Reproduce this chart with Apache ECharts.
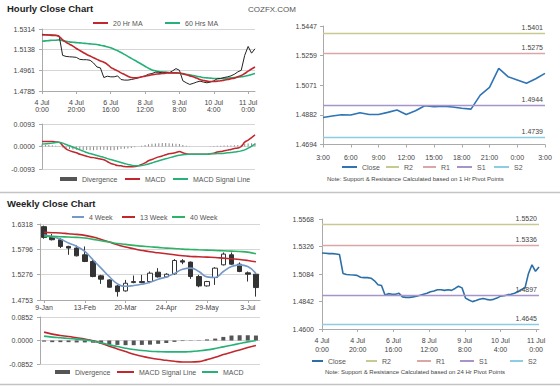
<!DOCTYPE html>
<html><head><meta charset="utf-8">
<script src="https://cdn.jsdelivr.net/npm/echarts@6/dist/echarts.min.js"></script>
<style>html,body{margin:0;padding:0;background:#fff}#c{width:560px;height:386px}</style>
</head><body><div id="c"></div>
<script>
// ---------- Hourly close chart (2-hour steps) ----------
const hourlyTickLabels = ['4 Jul\n0:00','4 Jul\n20:00','6 Jul\n16:00','8 Jul\n12:00','9 Jul\n8:00','10 Jul\n4:00','11 Jul\n0:00'];
const hourlyPriceTicks = ['1.4785','1.4961','1.5138','1.5314'];
const hourlyMacdTicks = ['-0.0093','0.0000','0.0093'];
const hourlyClose = [1.5269,1.5266,1.5263,1.5263,1.5260,1.5255,1.5089,1.5080,1.5077,1.5075,
 1.5072,1.5055,1.5052,1.5052,1.5047,1.5024,1.4990,1.4982,1.4900,1.4911,
 1.4906,1.4906,1.4914,1.4883,1.4878,1.4878,1.4883,1.4889,1.4897,1.4906,
 1.4914,1.4928,1.4934,1.4945,1.4945,1.4940,1.4945,1.4940,1.4957,1.4976,
 1.4962,1.4872,1.4855,1.4841,1.4850,1.4861,1.4869,1.4861,1.4855,1.4861,
 1.4872,1.4889,1.4892,1.4900,1.4906,1.4914,1.4928,1.4948,1.4962,1.5089,
 1.5165,1.5108,1.5145];
const ma20 = [1.5263,1.5263,1.5263,1.5260,1.5260,1.5249,1.5221,1.5201,1.5184,1.5168,
 1.5148,1.5131,1.5114,1.5097,1.5083,1.5069,1.5055,1.5041,1.5030,1.5013,
 1.4987,1.4971,1.4957,1.4940,1.4926,1.4911,1.4900,1.4897,1.4900,1.4906,
 1.4911,1.4917,1.4923,1.4928,1.4931,1.4934,1.4937,1.4940,1.4940,1.4940,
 1.4937,1.4931,1.4923,1.4914,1.4906,1.4895,1.4883,1.4875,1.4869,1.4866,
 1.4866,1.4869,1.4872,1.4878,1.4883,1.4889,1.4895,1.4906,1.4917,1.4934,
 1.4954,1.4973,1.4990];
const ma60 = [1.5210,1.5213,1.5215,1.5218,1.5218,1.5221,1.5215,1.5210,1.5204,1.5201,
 1.5198,1.5196,1.5193,1.5190,1.5187,1.5184,1.5182,1.5176,1.5170,1.5162,
 1.5154,1.5142,1.5128,1.5114,1.5097,1.5080,1.5063,1.5047,1.5030,1.5013,
 1.4996,1.4979,1.4965,1.4957,1.4951,1.4948,1.4945,1.4942,1.4940,1.4940,
 1.4937,1.4934,1.4928,1.4923,1.4917,1.4911,1.4906,1.4900,1.4897,1.4895,
 1.4892,1.4892,1.4892,1.4892,1.4895,1.4897,1.4900,1.4903,1.4906,1.4911,
 1.4917,1.4926,1.4934];
const hMacd = [0.0021,0.0021,0.0021,0.0021,0.0019,0.0017,0.0004,-0.0010,-0.0017,-0.0022,
 -0.0026,-0.0032,-0.0036,-0.0040,-0.0044,-0.0046,-0.0049,-0.0052,-0.0055,-0.0062,
 -0.0070,-0.0074,-0.0079,-0.0080,-0.0083,-0.0084,-0.0084,-0.0083,-0.0080,-0.0074,
 -0.0068,-0.0059,-0.0054,-0.0048,-0.0043,-0.0039,-0.0034,-0.0030,-0.0028,-0.0025,
 -0.0021,-0.0026,-0.0030,-0.0032,-0.0032,-0.0032,-0.0032,-0.0032,-0.0032,-0.0030,
 -0.0028,-0.0023,-0.0021,-0.0018,-0.0015,-0.0012,-0.0008,-0.0006,0.0000,0.0018,
 0.0026,0.0037,0.0048];
const hSignal = [0.0010,0.0011,0.0012,0.0014,0.0017,0.0018,0.0014,0.0008,0.0003,-0.0003,
 -0.0008,-0.0014,-0.0019,-0.0025,-0.0029,-0.0033,-0.0037,-0.0041,-0.0045,-0.0050,
 -0.0054,-0.0058,-0.0062,-0.0066,-0.0070,-0.0074,-0.0077,-0.0080,-0.0080,-0.0079,
 -0.0076,-0.0072,-0.0068,-0.0063,-0.0059,-0.0055,-0.0051,-0.0047,-0.0043,-0.0039,
 -0.0036,-0.0034,-0.0033,-0.0032,-0.0032,-0.0032,-0.0032,-0.0032,-0.0032,-0.0030,
 -0.0030,-0.0029,-0.0029,-0.0028,-0.0026,-0.0025,-0.0023,-0.0021,-0.0018,-0.0014,
 -0.0007,0.0001,0.0010];
const hDiv = [0.0008,0.0007,0.0006,0.0005,0.0003,0.0001,-0.0004,-0.0008,-0.0010,-0.0012,
 -0.0013,-0.0014,-0.0014,-0.0014,-0.0015,-0.0015,-0.0014,-0.0013,-0.0013,-0.0014,
 -0.0016,-0.0015,-0.0013,-0.0010,-0.0009,-0.0008,-0.0006,-0.0003,0.0000,0.0003,
 0.0006,0.0009,0.0011,0.0012,0.0013,0.0014,0.0014,0.0013,0.0012,0.0011,
 0.0010,0.0006,0.0003,0.0001,0.0000,0.0000,0.0000,0.0000,0.0000,0.0001,
 0.0002,0.0003,0.0003,0.0004,0.0004,0.0004,0.0005,0.0006,0.0007,0.0010,
 0.0012,0.0013,0.0014];

// ---------- 1 Hr pivot chart ----------
const pivotHours = ['3:00','4:00','5:00','6:00','7:00','8:00','9:00','10:00','11:00','12:00','13:00','14:00','15:00','16:00','17:00','18:00','19:00','20:00','21:00','22:00','23:00','0:00','1:00','2:00','3:00'];
const pivot1hTicks = ['1.4694','1.4882','1.5071','1.5259','1.5447'];
const pivot1hClose = [1.4866,1.4875,1.4883,1.4881,1.4896,1.4885,1.4885,1.4898,1.4913,1.4885,1.4908,1.4940,1.4934,1.4938,1.4932,1.4924,1.4919,1.5008,1.5057,1.5178,1.5125,1.5104,1.5083,1.5112,1.5146];
const pivotNames = ['R2','R1','S1','S2'];
const pivot1hLevels = [1.5401,1.5275,1.4944,1.4739];

// ---------- 24 Hr pivot chart ----------
const pivot24hTicks = ['1.4600','1.4842','1.5084','1.5326','1.5568'];
const pivot24hLevels = [1.5520,1.5336,1.4897,1.4645];

// ---------- Weekly close chart ----------
const weeks = ['9-Jan','16-Jan','23-Jan','30-Jan','6-Feb','13-Feb','20-Feb','27-Feb','6-Mar','13-Mar','20-Mar','27-Mar','3-Apr','10-Apr','17-Apr','24-Apr','1-May','8-May','15-May','22-May','29-May','5-Jun','12-Jun','19-Jun','26-Jun','3-Jul','10-Jul'];
const weeklyPriceTicks = ['1.4753','1.5276','1.5796','1.6318'];
const weeklyMacdTicks = ['-0.0852','0.0000','0.0852'];
// [open, close, low, high]
const weeklyOHLC = [
 [1.6263,1.6042,1.6015,1.6284],[1.6042,1.5994,1.5980,1.6111],[1.5994,1.5856,1.5822,1.6029],
 [1.5856,1.5822,1.5684,1.5870],[1.5822,1.5663,1.5650,1.5877],[1.5684,1.5546,1.5533,1.5856],
 [1.5546,1.5236,1.5222,1.5581],[1.5250,1.5181,1.5085,1.5271],[1.5167,1.5016,1.5009,1.5181],
 [1.5043,1.4926,1.4823,1.5064],[1.4940,1.5098,1.4926,1.5167],[1.5112,1.5133,1.5098,1.5257],
 [1.5133,1.5112,1.5098,1.5271],[1.5133,1.5305,1.5098,1.5340],[1.5326,1.5229,1.5216,1.5409],
 [1.5229,1.5284,1.5216,1.5305],[1.5291,1.5567,1.5271,1.5595],[1.5560,1.5533,1.5491,1.5595],
 [1.5533,1.5236,1.5188,1.5546],[1.5236,1.5043,1.5016,1.5271],[1.5043,1.5133,1.5030,1.5147],
 [1.5216,1.5409,1.5064,1.5429],[1.5477,1.5698,1.5464,1.5732],[1.5684,1.5491,1.5477,1.5732],
 [1.5491,1.5340,1.5326,1.5526],[1.5312,1.5284,1.5133,1.5340],[1.5284,1.5009,1.4823,1.5298]];
const week4 = [1.6098,1.6056,1.6008,1.5925,1.5856,1.5753,1.5581,1.5409,1.5236,1.5085,1.5036,1.5050,1.5078,1.5119,1.5181,1.5229,1.5298,1.5388,1.5409,1.5340,1.5229,1.5216,1.5340,1.5443,1.5477,1.5443,1.5298];
const week13 = [1.6146,1.6139,1.6132,1.6118,1.6104,1.6084,1.6049,1.6001,1.5946,1.5891,1.5843,1.5808,1.5774,1.5746,1.5725,1.5705,1.5684,1.5663,1.5650,1.5643,1.5636,1.5629,1.5615,1.5601,1.5588,1.5567,1.5539];
const week40 = [1.6063,1.6063,1.6056,1.6049,1.6042,1.6029,1.6001,1.5973,1.5946,1.5918,1.5898,1.5877,1.5863,1.5849,1.5836,1.5822,1.5815,1.5801,1.5794,1.5787,1.5781,1.5774,1.5767,1.5760,1.5753,1.5739,1.5705];
const wSignal = [0.0304,0.0231,0.0183,0.0146,0.0097,0.0049,-0.0012,-0.0097,-0.0207,-0.0304,-0.0402,-0.0499,-0.0572,-0.0633,-0.0682,-0.0718,-0.0754,-0.0779,-0.0779,-0.0767,-0.0694,-0.0609,-0.0511,-0.0426,-0.0341,-0.0256,-0.0183];
const wMacd = [0.0158,0.0122,0.0097,0.0073,0.0049,0.0024,-0.0024,-0.0085,-0.0158,-0.0219,-0.0280,-0.0329,-0.0365,-0.0389,-0.0402,-0.0414,-0.0414,-0.0414,-0.0402,-0.0377,-0.0341,-0.0292,-0.0231,-0.0170,-0.0110,-0.0049,0.0000];
const wDiv = [-0.004,-0.006,-0.006,-0.006,-0.007,-0.007,-0.008,-0.012,-0.015,-0.016,-0.017,-0.017,-0.016,-0.015,-0.012,-0.009,-0.005,-0.002,-0.001,0.001,0.004,0.007,0.013,0.018,0.019,0.019,0.018];

// ---------- build ----------
const FONT = 'Liberation Sans, Arial, sans-serif';
const RED = '#c1272d', GREEN = '#27b077', BLUE = '#2f74b5';
const pivotColors = ['#c6ca8f','#dba6a6','#a795c9','#8ccde4'];
const hourIdx = hourlyClose.map((_, i) => String(i));
const num = a => parseFloat(a);

const labelMap = {
  h20:'20 Hr MA', h60:'60 Hrs MA', hDiv:'Divergence', hMacd:'MACD', hSig:'MACD Signal Line',
  p1Close:'Close', p1R2:'R2', p1R1:'R1', p1S1:'S1', p1S2:'S2',
  p24Close:'Close', p24R2:'R2', p24R1:'R1', p24S1:'S1', p24S2:'S2',
  w4:'4 Week', w13:'13 Week', w40:'40 Week', wDiv:'Divergence', wSig:'MACD Signal Line', wMacd:'MACD'
};
function L(name, x, y, w, h, swatch) {
  h = h || 2;
  const item = swatch ? { name:name, itemStyle:{ color:swatch } } : name;
  return { left:x, top:y - 5, padding:0, itemGap:0, itemWidth:w, itemHeight:h, icon:'rect',
    selectedMode:false, data:[item], formatter: n => labelMap[n],
    textStyle:{ fontSize:7, color:'#555', fontFamily:FONT, lineHeight:10 } };
}
const legends = [
  L('h20',93,23,15), L('h60',165,23,15),
  L('hDiv',60,179,17,4,'#555555'), L('hMacd',125,179,15), L('hSig',173,179,15),
  L('p1Close',342,167,15), L('p1R2',386,167,13), L('p1R1',423,167,13), L('p1S1',457,167,15), L('p1S2',494,167,15),
  L('w4',72,217,12), L('w13',122,217,13), L('w40',172,217,13),
  L('wDiv',55,372,15,4), L('wSig',117,372,17), L('wMacd',202,372,16),
  L('p24Close',312,361,11), L('p24R2',366,361,11), L('p24R1',417,361,14), L('p24S1',460,361,14), L('p24S2',510,361,13)
];

const axLine = { show:true, lineStyle:{ color:'#aaaaaa', width:1 } };
const lblStyle = { fontSize:7, color:'#444', fontFamily:FONT };
function dataY(grid, ticks) {
  return { gridIndex:grid, type:'value', position:'left', min:num(ticks[0]), max:num(ticks[ticks.length-1]), show:false };
}
function labelY(grid, ticks, split, margin) {
  return { gridIndex:grid, type:'value', position:'left', offset:0, min:0, max:ticks.length-1, interval:1,
    axisLine:axLine, axisTick:{ show:true, length:3, lineStyle:{ color:'#aaaaaa' } },
    axisLabel:Object.assign({ margin:margin, formatter: v => ticks[v] }, lblStyle),
    splitLine:{ show:split, lineStyle:{ color:'#d6d6d6', width:1 } } };
}
function pivotMarkLine(levels) {
  return { silent:true, symbol:'none', animation:false, precision:4,
    label:{ show:true, position:'insideEndTop', distance:2, fontSize:7, color:'#444', fontFamily:FONT,
      formatter: p => Number(p.value).toFixed(4) },
    data: levels.map((v, i) => ({ yAxis:v, lineStyle:{ color:pivotColors[i], width:1.3, type:'solid' } })) };
}

const option = {
  animation:false,
  textStyle:{ fontFamily:FONT },
  title:[
    { text:'Hourly Close Chart', left:7, top:3, padding:0, textStyle:{ fontSize:9.5, fontWeight:'bold', color:'#222', fontFamily:FONT } },
    { text:'COZFX.COM', left:248, top:5, padding:0, textStyle:{ fontSize:8, fontWeight:'normal', color:'#555', fontFamily:FONT } },
    { text:'Weekly Close Chart', left:7, top:198, padding:0, textStyle:{ fontSize:9.5, fontWeight:'bold', color:'#222', fontFamily:FONT } },
    { text:'Note: Support & Resistance Calculated based on 1 Hr Pivot Points', left:327, top:176, padding:0, textStyle:{ fontSize:6, fontWeight:'normal', color:'#444', fontFamily:FONT } },
    { text:'Note: Support & Resistance Calculated based on 24 Hr Pivot Points', left:325, top:369, padding:0, textStyle:{ fontSize:6, fontWeight:'normal', color:'#444', fontFamily:FONT } }
  ],
  legend: legends,
  graphic:[
    { type:'line', shape:{ x1:0, y1:192.5, x2:560, y2:192.5 }, style:{ stroke:'#c4c4c4', lineWidth:1.5 }, silent:true },
    { type:'line', shape:{ x1:0, y1:384.5, x2:560, y2:384.5 }, style:{ stroke:'#c4c4c4', lineWidth:1.5 }, silent:true }
  ],
  grid:[
    { left:42, top:29, width:213, height:62 },
    { left:42, top:124, width:213, height:45 },
    { left:323, top:26, width:222, height:118.5 },
    { left:40, top:224, width:220, height:76 },
    { left:40, top:317, width:220, height:47 },
    { left:322, top:219, width:217, height:110 }
  ],
  xAxis:[
    { gridIndex:0, type:'category', position:'bottom', data:hourIdx, boundaryGap:false, axisLine:axLine,
      axisTick:{ show:true, interval:9, length:3, lineStyle:{ color:'#aaaaaa' } },
      axisLabel:Object.assign({ interval:9, margin:8, lineHeight:7, formatter:(v, i) => hourlyTickLabels[i / 10] || '' }, lblStyle) },
    { gridIndex:1, type:'category', position:'bottom', data:hourIdx, boundaryGap:false, show:false },
    { gridIndex:2, type:'category', position:'bottom', data:pivotHours, boundaryGap:false, axisLine:axLine,
      axisTick:{ show:true, interval:2, length:3, lineStyle:{ color:'#aaaaaa' } },
      axisLabel:Object.assign({ interval:2, margin:9 }, lblStyle) },
    { gridIndex:3, type:'category', position:'bottom', data:weeks, boundaryGap:true, axisLine:axLine,
      axisTick:{ show:true, interval:4, alignWithLabel:true, length:3, lineStyle:{ color:'#aaaaaa' } },
      axisLabel:Object.assign({ interval:4, margin:4 }, lblStyle) },
    { gridIndex:4, type:'category', position:'bottom', data:weeks, boundaryGap:true, show:false },
    { gridIndex:5, type:'category', position:'bottom', data:hourIdx, boundaryGap:false, axisLine:axLine, axisTick:{ show:false }, axisLabel:{ show:false } },
    { gridIndex:5, type:'value', position:'bottom', offset:0, min:0, max:6.08, interval:1, axisLine:{ show:false },
      axisTick:{ show:true, length:3, lineStyle:{ color:'#aaaaaa' } }, splitLine:{ show:false },
      axisLabel:Object.assign({ margin:7, lineHeight:9, showMaxLabel:false, formatter: v => hourlyTickLabels[v] || '' }, lblStyle) }
  ],
  yAxis:[
    dataY(0, hourlyPriceTicks), labelY(0, hourlyPriceTicks, true, 7),
    dataY(1, hourlyMacdTicks), labelY(1, hourlyMacdTicks, true, 7),
    dataY(2, pivot1hTicks), labelY(2, pivot1hTicks, false, 6),
    dataY(3, weeklyPriceTicks), labelY(3, weeklyPriceTicks, true, 7),
    dataY(4, weeklyMacdTicks), labelY(4, weeklyMacdTicks, true, 7),
    dataY(5, pivot24hTicks), labelY(5, pivot24hTicks, false, 8)
  ],
  series:[
    // hourly price
    { name:'hClose', type:'line', xAxisIndex:0, yAxisIndex:0, data:hourlyClose, symbol:'none', color:'#222', lineStyle:{ width:1, color:'#222' }, z:3 },
    { name:'h20', type:'line', xAxisIndex:0, yAxisIndex:0, data:ma20, symbol:'none', smooth:true, color:RED, lineStyle:{ width:1.6 }, z:4 },
    { name:'h60', type:'line', xAxisIndex:0, yAxisIndex:0, data:ma60, symbol:'none', smooth:true, color:GREEN, lineStyle:{ width:1.6 }, z:2 },
    // hourly MACD
    { name:'hDiv', type:'bar', xAxisIndex:1, yAxisIndex:2, data:hDiv, barWidth:1, color:'#8a8a8a' },
    { name:'hMacd', type:'line', xAxisIndex:1, yAxisIndex:2, data:hMacd, symbol:'none', smooth:true, color:RED, lineStyle:{ width:1.5 } },
    { name:'hSig', type:'line', xAxisIndex:1, yAxisIndex:2, data:hSignal, symbol:'none', smooth:true, color:GREEN, lineStyle:{ width:1.5 } },
    // 1 hr pivot
    { name:'p1Close', type:'line', xAxisIndex:2, yAxisIndex:4, data:pivot1hClose, symbol:'none', color:BLUE, lineStyle:{ width:1.6 }, z:3,
      markLine:pivotMarkLine(pivot1hLevels) },
    { name:'p1R2', type:'line', xAxisIndex:2, yAxisIndex:4, data:[], color:pivotColors[0] },
    { name:'p1R1', type:'line', xAxisIndex:2, yAxisIndex:4, data:[], color:pivotColors[1] },
    { name:'p1S1', type:'line', xAxisIndex:2, yAxisIndex:4, data:[], color:pivotColors[2] },
    { name:'p1S2', type:'line', xAxisIndex:2, yAxisIndex:4, data:[], color:pivotColors[3] },
    // weekly price
    { name:'wCandle', type:'candlestick', xAxisIndex:3, yAxisIndex:6, data:weeklyOHLC, barWidth:5,
      itemStyle:{ color:'#ffffff', color0:'#333333', borderColor:'#333333', borderColor0:'#333333', borderWidth:1 } },
    { name:'w4', type:'line', xAxisIndex:3, yAxisIndex:6, data:week4, symbol:'none', smooth:true, color:'#7498c8', lineStyle:{ width:1.6 } },
    { name:'w13', type:'line', xAxisIndex:3, yAxisIndex:6, data:week13, symbol:'none', smooth:true, color:RED, lineStyle:{ width:1.6 } },
    { name:'w40', type:'line', xAxisIndex:3, yAxisIndex:6, data:week40, symbol:'none', smooth:true, color:'#2db266', lineStyle:{ width:1.6 } },
    // weekly MACD
    { name:'wDiv', type:'bar', xAxisIndex:4, yAxisIndex:8, data:wDiv, barWidth:4, color:'#555' },
    { name:'wSig', type:'line', xAxisIndex:4, yAxisIndex:8, data:wSignal, symbol:'none', smooth:true, color:RED, lineStyle:{ width:1.6 } },
    { name:'wMacd', type:'line', xAxisIndex:4, yAxisIndex:8, data:wMacd, symbol:'none', smooth:true, color:GREEN, lineStyle:{ width:1.6 } },
    // 24 hr pivot
    { name:'p24Close', type:'line', xAxisIndex:5, yAxisIndex:10, data:hourlyClose, symbol:'none', color:'#2b6fa6', lineStyle:{ width:1.6 }, z:3,
      markLine:pivotMarkLine(pivot24hLevels) },
    { name:'p24R2', type:'line', xAxisIndex:5, yAxisIndex:10, data:[], color:pivotColors[0] },
    { name:'p24R1', type:'line', xAxisIndex:5, yAxisIndex:10, data:[], color:pivotColors[1] },
    { name:'p24S1', type:'line', xAxisIndex:5, yAxisIndex:10, data:[], color:pivotColors[2] },
    { name:'p24S2', type:'line', xAxisIndex:5, yAxisIndex:10, data:[], color:pivotColors[3] }
  ]
};
const chart = echarts.init(document.getElementById('c'), null, { renderer:'svg', width:560, height:386 });
chart.setOption(option);
</script></body></html>
